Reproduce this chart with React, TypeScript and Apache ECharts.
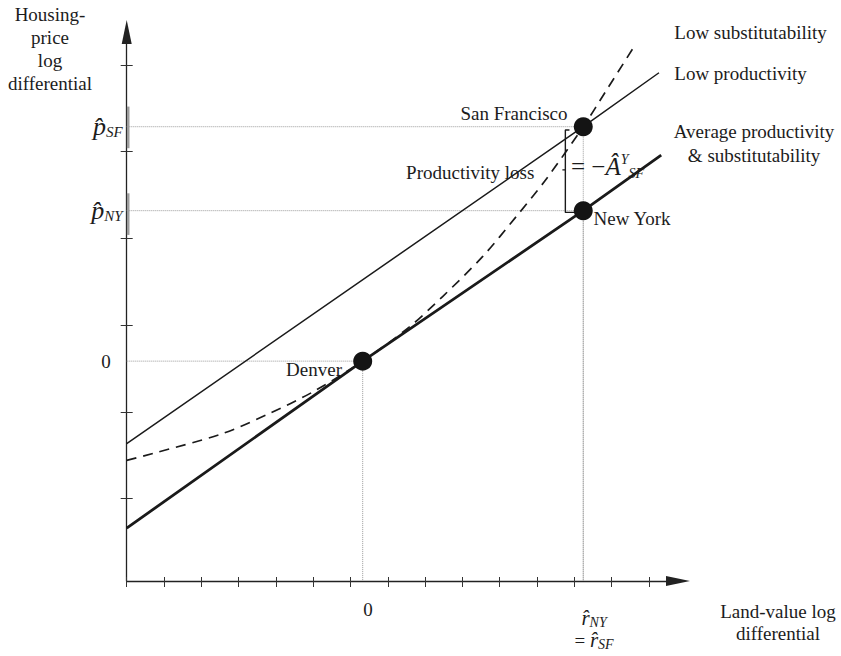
import React, { useEffect, useRef } from "react";
import * as echarts from "echarts";

// ---------- data (axis units: one x tick = 1, one y tick = 1) ----------
const xTicks = [0, 1, 2, 3, 4, 5, 6, 7, 8, 9, 10, 11, 12, 13, 14];
const yTicks = [1, 2, 3, 4, 5, 6];
const xMin = 0;
const xMax = 14.78;
const yMin = 0.05;
const yMax = 6.38;

const xZeroLabelAt = [6.47];
const xRLabelAt = [12.53];
const yZeroLabelAt = [2.585];
const yPLabelAt = [5.288, 4.32];
const yPLabelKeys = ["SF", "NY"];

const cityNames = ["Denver", "New York", "San Francisco"];
const cityX = [6.327, 12.24, 12.24];
const cityY = [2.585, 4.32, 5.288];

// Average productivity & substitutability (heavy line)
const avgX = [0, 6.327, 12.24, 14.33];
const avgY = [0.66, 2.585, 4.32, 4.96];
// Low productivity (thin line)
const lowProdX = [0, 12.24, 14.27];
const lowProdY = [1.635, 5.288, 5.91];
// Low substitutability (dashed curve)
const lowSubX = [0, 0.7, 2.57, 3.82, 4.99, 6.327, 7.58, 8.47, 9.54, 10.44, 11.24, 12.24, 12.85, 13.6];
const lowSubY = [1.44, 1.52, 1.75, 1.98, 2.23, 2.585, 2.98, 3.33, 3.79, 4.25, 4.68, 5.288, 5.7, 6.21];

// grey emphasis segments on the y axis
const barSF = [5.04, 5.52];
const barNY = [4.04, 4.52];
const barX = 0.04;

// productivity-loss bracket
const bracketX = [11.87, 11.76, 11.76, 11.68, 11.76, 11.76, 12.05];
const bracketY = [5.25, 5.25, 4.79, 4.79, 4.79, 4.3, 4.3];

// ---------- layout of free annotations (axis units) ----------
const serif = "'Liberation Serif', 'Times New Roman', serif";
const ink = "#1c1c1c";
const fs = 19;

const notes = [
  { text: "Housing-\nprice\nlog\ndifferential", x: -2.056, y: 6.184, align: "center", lh: 22.7 },
  { text: "Land-value log\ndifferential", x: 17.46, y: -0.427, align: "center", lh: 21.5 },
  { text: "Low substitutability", x: 14.68, y: 6.38, align: "left", lh: 20 },
  { text: "Low productivity", x: 14.68, y: 5.896, align: "left", lh: 20 },
  { text: "Average productivity\n& substitutability", x: 16.82, y: 5.096, align: "center", lh: 23.3 },
  { text: "Productivity loss", x: 7.49, y: 4.765, align: "left", lh: 20 },
];

const citySymbolSize = 19;
const cityLabelLayout = [
  { align: "right", offset: [-20.7, 8] },
  { align: "left", offset: [10.3, 8] },
  { align: "right", offset: [-15.7, -13.7] },
];

const pair = (xs: number[], ys: number[]) => xs.map((x, i) => [x, ys[i]]);

export default function App() {
  const ref = useRef<HTMLDivElement>(null);

  useEffect(() => {
    if (!ref.current) return;
    const chart = echarts.init(ref.current, undefined, { renderer: "svg" });

    const guideStyle = { type: "dotted", color: "#9a9a9a", width: 1 };
    const guides: any[] = [];
    cityX.forEach((cx, i) => {
      guides.push({
        type: "line",
        data: [[xMin, cityY[i]], [cx, cityY[i]]],
        symbol: "none",
        silent: true,
        z: 1,
        lineStyle: guideStyle,
      });
      guides.push({
        type: "line",
        data: [[cx, cityY[i]], [cx, yMin]],
        symbol: "none",
        silent: true,
        z: 1,
        lineStyle: guideStyle,
      });
    });

    const mathRich = {
      p: { fontFamily: serif, fontStyle: "italic", fontSize: 26, lineHeight: 26, color: ink },
      s: { fontFamily: serif, fontStyle: "italic", fontSize: 15, lineHeight: 15, verticalAlign: "bottom", color: ink },
      r: { fontFamily: serif, fontStyle: "italic", fontSize: 21, lineHeight: 22, color: ink },
      e: { fontFamily: serif, fontSize: 19, lineHeight: 22, color: ink },
      rs: { fontFamily: serif, fontStyle: "italic", fontSize: 14, lineHeight: 14, verticalAlign: "bottom", color: ink },
    };

    const plainLabel = { textBorderWidth: 0, textBorderColor: "transparent", textShadowBlur: 0 };
    const half = citySymbolSize / 2;

    const option: any = {
      animation: false,
      backgroundColor: "#ffffff",
      grid: {
        left: 126.7,
        top: 32,
        width: 551.3,
        height: 549,
        containLabel: false,
        outerBoundsMode: "none",
      },
      xAxis: [
        {
          type: "value",
          min: xMin,
          max: xMax,
          position: "bottom",
          axisLine: {
            show: true,
            onZero: false,
            lineStyle: { color: "#222", width: 1.3 },
            symbol: ["none", "triangle"],
            symbolSize: [10, 24],
          },
          axisTick: { show: true, customValues: xTicks, length: 6, lineStyle: { color: "#333", width: 1 } },
          axisLabel: {
            customValues: xZeroLabelAt,
            formatter: () => "0",
            margin: 19,
            fontFamily: serif,
            fontSize: fs,
            color: ink,
          },
          splitLine: { show: false },
        },
        {
          type: "value",
          min: xMin,
          max: xMax,
          position: "bottom",
          axisLine: { show: false, onZero: false },
          axisTick: { show: true, inside: true, customValues: xTicks, length: 4, lineStyle: { color: "#333", width: 1 } },
          axisLabel: {
            customValues: xRLabelAt,
            formatter: () => "{r|r\u0302}{rs|NY}\n{e|= }{r|r\u0302}{rs|SF}",
            margin: 26,
            rich: mathRich,
          },
          splitLine: { show: false },
        },
      ],
      yAxis: [
        {
          type: "value",
          min: yMin,
          max: yMax,
          position: "left",
          axisLine: {
            show: true,
            onZero: false,
            lineStyle: { color: "#222", width: 1.3 },
            symbol: ["none", "triangle"],
            symbolSize: [10, 24],
          },
          axisTick: { show: true, customValues: yTicks, length: 6, lineStyle: { color: "#333", width: 1 } },
          axisLabel: {
            customValues: yZeroLabelAt,
            formatter: () => "0",
            margin: 16,
            fontFamily: serif,
            fontSize: fs,
            color: ink,
          },
          splitLine: { show: false },
        },
        {
          type: "value",
          min: yMin,
          max: yMax,
          position: "left",
          axisLine: { show: false, onZero: false },
          axisTick: { show: true, inside: true, customValues: yTicks, length: 6, lineStyle: { color: "#333", width: 1 } },
          axisLabel: {
            customValues: yPLabelAt,
            formatter: (v: number) => {
              let best = 0;
              yPLabelAt.forEach((t, i) => {
                if (Math.abs(t - v) < Math.abs(yPLabelAt[best] - v)) best = i;
              });
              return "{p|p\u0302}{s|" + yPLabelKeys[best] + "}";
            },
            margin: 4,
            rich: mathRich,
          },
          splitLine: { show: false },
        },
      ],
      series: [
        ...guides,
        {
          type: "line",
          data: [[barX, barSF[0]], [barX, barSF[1]]],
          symbol: "none",
          silent: true,
          clip: false,
          z: 4,
          lineStyle: { color: "#9c9c9c", width: 2.6 },
        },
        {
          type: "line",
          data: [[barX, barNY[0]], [barX, barNY[1]]],
          symbol: "none",
          silent: true,
          clip: false,
          z: 4,
          lineStyle: { color: "#9c9c9c", width: 2.6 },
        },
        {
          name: "Average productivity & substitutability",
          type: "line",
          data: pair(avgX, avgY),
          symbol: "none",
          z: 3,
          lineStyle: { color: "#1a1a1a", width: 2.8 },
        },
        {
          name: "Low productivity",
          type: "line",
          data: pair(lowProdX, lowProdY),
          symbol: "none",
          z: 3,
          lineStyle: { color: "#1a1a1a", width: 1.5 },
        },
        {
          name: "Low substitutability",
          type: "line",
          data: pair(lowSubX, lowSubY),
          symbol: "none",
          smooth: 0.3,
          z: 3,
          lineStyle: { color: "#1a1a1a", width: 1.7, type: [10, 7] },
        },
        {
          type: "line",
          data: pair(bracketX, bracketY),
          symbol: "none",
          silent: true,
          z: 3,
          lineStyle: { color: "#1a1a1a", width: 1.4 },
        },
        {
          type: "scatter",
          data: cityNames.map((n, i) => ({
            name: n,
            value: [cityX[i], cityY[i]],
            label: {
              show: true,
              position: [half, half],
              formatter: n,
              align: cityLabelLayout[i].align,
              verticalAlign: "middle",
              offset: cityLabelLayout[i].offset,
              fontFamily: serif,
              fontSize: fs,
              color: ink,
              ...plainLabel,
            },
          })),
          symbolSize: citySymbolSize,
          z: 6,
          itemStyle: { color: "#141414", opacity: 1 },
        },
        {
          type: "scatter",
          silent: true,
          clip: false,
          symbolSize: 1,
          z: 7,
          itemStyle: { color: "rgba(0,0,0,0)", opacity: 1 },
          data: [
            ...notes.map((n) => ({
              value: [n.x, n.y],
              label: {
                show: true,
                position: "inside",
                formatter: n.text,
                align: n.align,
                verticalAlign: "middle",
                fontFamily: serif,
                fontSize: fs,
                lineHeight: n.lh,
                color: ink,
                ...plainLabel,
              },
            })),
            {
              value: [11.91, 4.826],
              label: {
                show: true,
                position: "inside",
                formatter: "{n|= \u2212}{a|A\u0302}{sup|Y}{sub|SF}",
                align: "left",
                verticalAlign: "middle",
                ...plainLabel,
                rich: {
                  n: { fontFamily: serif, fontSize: 25, lineHeight: 28, color: ink },
                  a: { fontFamily: serif, fontStyle: "italic", fontSize: 25, lineHeight: 28, color: ink },
                  sup: { fontFamily: serif, fontStyle: "italic", fontSize: 14, lineHeight: 14, verticalAlign: "top", color: ink },
                  sub: { fontFamily: serif, fontStyle: "italic", fontSize: 14, lineHeight: 14, verticalAlign: "bottom", color: ink },
                },
              },
            },
          ],
        },
      ],
    };

    chart.setOption(option);
    return () => chart.dispose();
  }, []);

  return (
    <div
      ref={ref}
      style={{ position: "fixed", left: 0, top: 0, width: 841, height: 656, background: "#fff" }}
    />
  );
}
